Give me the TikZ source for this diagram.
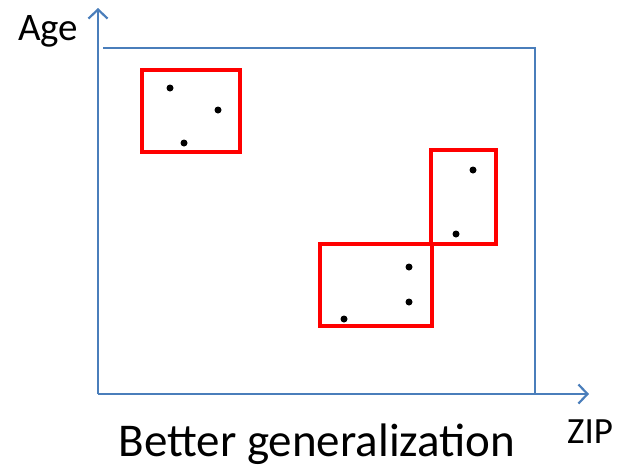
\documentclass[tikz,border=0pt]{standalone}
\usepackage{fontspec}
\setmainfont{Carlito}
\usepackage{tikz}
\usetikzlibrary{arrows.meta,positioning}
\definecolor{axisblue}{RGB}{74,126,187}
\tikzset{
	axis/.style = {draw=axisblue, line width=2.2pt},
	frame/.style = {draw=axisblue, line width=1.8pt},
	group/.style = {draw=red, line width=3.8pt},
	pt/.style = {circle, fill=black, inner sep=0pt, minimum size=7pt},
	lbl/.style = {inner sep=0pt, font=\fontsize{39}{39}\selectfont}
}
\begin{document}
\begin{tikzpicture}[x=1pt, y=-1pt, >={Straight Barb[length=9pt, width=19pt]}]
	\useasboundingbox (0,0) rectangle (619,469);
	
	% axes
	\coordinate (o) at (98,394);
	\coordinate (ytip) at (98,8);
	\coordinate (xtip) at (589,394);
	\draw[axis,->] (o) -- (ytip);
	\draw[axis,->] (o) -- (xtip);
	
	% domain frame
	\draw[frame] (103,48) -- (535,48) -- (535,394);
	
	% axis labels and caption
	\node[lbl, anchor=base west] (age) at (18,40) {Age};
	\node[lbl, font=\fontsize{37}{37}\selectfont, anchor=base west] (zip) at (567,443) {ZIP};
	\node[lbl, font=\fontsize{47}{47}\selectfont, anchor=base] (cap) at (317,456) {Better generalization};
	
	% the generalized groups
	\draw[group] (142,70) rectangle (240,152);
	\draw[group] (431,150) rectangle (496,244);
	\draw[group] (320,244) rectangle (432,326);
	
	% records
	\node[pt] (p1) at (170,88) {};
	\node[pt] (p2) at (218,110) {};
	\node[pt] (p3) at (184,143) {};
	\node[pt] (p4) at (473,170) {};
	\node[pt] (p5) at (456,234) {};
	\node[pt] (p6) at (409,267) {};
	\node[pt] (p7) at (409,302) {};
	\node[pt] (p8) at (344,319) {};
\end{tikzpicture}
\end{document}
